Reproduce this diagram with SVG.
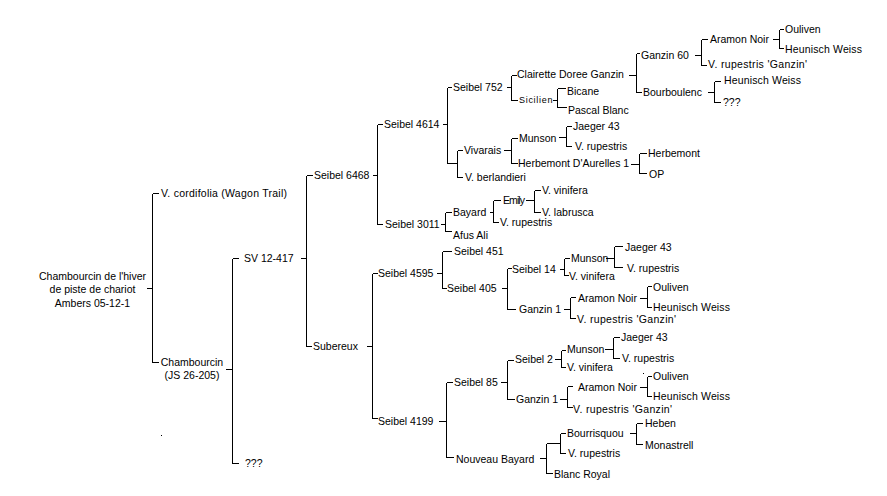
<svg xmlns="http://www.w3.org/2000/svg" width="887" height="496" viewBox="0 0 887 496">
<style>
text{font-family:"Liberation Sans",Arial,sans-serif;font-size:10.5px;fill:#000}
.m{text-anchor:middle}
.sm{font-size:9px;letter-spacing:0.7px}
.c{fill:none;stroke:#000;stroke-width:1}
</style>
<rect width="887" height="496" fill="#fff"/>
<g id="connectors" class="c" transform="translate(0.5,0.5)" shape-rendering="crispEdges">
<path d="M146 288H152M152 193V362M152 193H158M152 362H158"/>
<path d="M225 369H232M232 258V463M232 258H238M232 463H238"/>
<path d="M300 258H306M306 175V346M306 175H312M306 346H311"/>
<path d="M372 175H377M377 124V224M377 124H382M377 224H382"/>
<path d="M442 124H447M447 87V163M447 87H451M447 163H457M457 150V177M457 150H462M457 177H462"/>
<path d="M506 87H511M511 75V100M511 75H516M511 100H517"/>
<path d="M552 100H557M557 88V107M557 88H565M557 107H566"/>
<path d="M628 75H636M636 53V92M636 53H639M636 92H641"/>
<path d="M694 55H701M701 39V65M701 39H707M701 65H706"/>
<path d="M772 39H779M779 29V48M779 29H783M779 48H783"/>
<path d="M707 92H714M714 81V102M714 81H720M714 102H720"/>
<path d="M503 150H511M511 138V163M511 138H517M511 163H517"/>
<path d="M558 137H566M566 126V146M566 126H571M566 146H571"/>
<path d="M630 164H639M639 153V173M639 153H646M639 173H646"/>
<path d="M440 224H445M445 212V231M445 212H451M445 231H451"/>
<path d="M489 212H493M493 200V222M493 200H500M493 222H498"/>
<path d="M525 200H534M534 190V212M534 190H540M534 212H540"/>
<path d="M366 346H372M372 273V418M372 273H377M372 418H377"/>
<path d="M436 273H442M442 251V288M442 251H451M442 288H446"/>
<path d="M501 288H507M507 268V309M507 268H511M507 309H515"/>
<path d="M559 269H564M564 258V275M564 258H569M564 275H568"/>
<path d="M605 258H614M614 246V267M614 246H622M614 267H622"/>
<path d="M563 309H570M570 297V318M570 297H575M570 318H575"/>
<path d="M639 298H647M647 286V307M647 286H651M647 307H651"/>
<path d="M438 421H446M446 382V457M446 382H452M446 457H453"/>
<path d="M500 382H507M507 360V399M507 360H513M507 399H514"/>
<path d="M554 359H561M561 350V367M561 350H565M561 367H565"/>
<path d="M604 349H613M613 337V358M613 337H619M613 358H619"/>
<path d="M559 399H567M567 386V407M567 386H572M567 407H572"/>
<path d="M639 387H647M647 376V396M647 376H651M647 396H651"/>
<path d="M539 458H546M546 443V473M546 443H560M560 433V453M560 433H565M560 453H565M546 473H552"/>
<path d="M629 433H636M636 423V444M636 423H642M636 444H642"/>
</g>
<g id="dots" shape-rendering="crispEdges">
<rect x="161" y="435" width="1" height="1" fill="#000"/>
<rect x="643" y="373" width="1" height="1" fill="#000"/>
</g>
<g id="n-root"><text class="m" x="92.5" y="280">Chambourcin de l'hiver</text><text class="m" x="92.5" y="293">de piste de chariot</text><text class="m" x="92.5" y="307">Ambers 05-12-1</text></g>
<g id="n-cordifolia"><text x="161" y="197" textLength="126">V. cordifolia (Wagon Trail)</text></g>
<g id="n-chambourcin"><text class="m" x="192" y="366">Chambourcin</text><text class="m" x="192" y="379">(JS 26-205)</text></g>
<g id="n-sv12417"><text x="244" y="262">SV 12-417</text></g>
<g id="n-unk1"><text x="245" y="467">???</text></g>
<g id="n-seibel6468"><text x="314" y="179">Seibel 6468</text></g>
<g id="n-subereux"><text x="313" y="350">Subereux</text></g>
<g id="n-seibel4614"><text x="384" y="128">Seibel 4614</text></g>
<g id="n-seibel3011"><text x="385" y="228">Seibel 3011</text></g>
<g id="n-seibel752"><text x="453" y="91">Seibel 752</text></g>
<g id="n-vivarais"><text x="464" y="154">Vivarais</text></g>
<g id="n-berlandieri"><text x="465" y="181">V. berlandieri</text></g>
<g id="n-clairette"><text x="517" y="78">Clairette Doree Ganzin</text></g>
<g id="n-sicilien"><text class="sm" x="519" y="103">Sicilien</text></g>
<g id="n-bicane"><text x="567" y="95">Bicane</text></g>
<g id="n-pascal"><text x="568" y="114">Pascal Blanc</text></g>
<g id="n-ganzin60"><text x="641" y="59">Ganzin 60</text></g>
<g id="n-bourboulenc"><text x="643" y="96">Bourboulenc</text></g>
<g id="n-aramon1"><text x="710" y="43">Aramon Noir</text></g>
<g id="n-rupganzin1"><text x="708" y="68" textLength="99">V. rupestris 'Ganzin'</text></g>
<g id="n-ouliven1"><text x="785" y="33">Ouliven</text></g>
<g id="n-heunisch1"><text x="785" y="53" textLength="77">Heunisch Weiss</text></g>
<g id="n-heunisch2"><text x="724" y="84" textLength="77">Heunisch Weiss</text></g>
<g id="n-unk2"><text x="723" y="106">???</text></g>
<g id="n-munson1"><text x="519" y="142">Munson</text></g>
<g id="n-herbdaur"><text x="518" y="167">Herbemont D'Aurelles 1</text></g>
<g id="n-jaeger1"><text x="573" y="130">Jaeger 43</text></g>
<g id="n-rup1"><text x="575" y="150">V. rupestris</text></g>
<g id="n-herbemont"><text x="648" y="157">Herbemont</text></g>
<g id="n-op"><text x="649" y="178">OP</text></g>
<g id="n-bayard"><text x="453" y="216">Bayard</text></g>
<g id="n-afusali"><text x="453" y="239">Afus Ali</text></g>
<g id="n-emily"><text x="503" y="204" textLength="22">Emily</text></g>
<g id="n-rup2"><text x="500" y="226">V. rupestris</text></g>
<g id="n-vinifera1"><text x="542" y="194">V. vinifera</text></g>
<g id="n-labrusca"><text x="542" y="216">V. labrusca</text></g>
<g id="n-seibel4595"><text x="378" y="277">Seibel 4595</text></g>
<g id="n-seibel4199"><text x="378" y="425">Seibel 4199</text></g>
<g id="n-seibel451"><text x="454" y="255">Seibel 451</text></g>
<g id="n-seibel405"><text x="447" y="292">Seibel 405</text></g>
<g id="n-seibel14"><text x="512" y="273">Seibel 14</text></g>
<g id="n-ganzin1a"><text x="519" y="313">Ganzin 1</text></g>
<g id="n-munson2"><text x="571" y="262">Munson</text></g>
<g id="n-vinifera2"><text x="569" y="280">V. vinifera</text></g>
<g id="n-jaeger2"><text x="625" y="251">Jaeger 43</text></g>
<g id="n-rup3"><text x="627" y="272">V. rupestris</text></g>
<g id="n-aramon2"><text x="578" y="302">Aramon Noir</text></g>
<g id="n-rupganzin2"><text x="577" y="323" textLength="99">V. rupestris 'Ganzin'</text></g>
<g id="n-ouliven2"><text x="653" y="291">Ouliven</text></g>
<g id="n-heunisch3"><text x="653" y="311" textLength="77">Heunisch Weiss</text></g>
<g id="n-seibel85"><text x="454" y="386">Seibel 85</text></g>
<g id="n-nouveaubayard"><text x="456" y="463">Nouveau Bayard</text></g>
<g id="n-seibel2"><text x="515" y="363">Seibel 2</text></g>
<g id="n-ganzin1b"><text x="516" y="403">Ganzin 1</text></g>
<g id="n-munson3"><text x="567" y="353">Munson</text></g>
<g id="n-vinifera3"><text x="567" y="371">V. vinifera</text></g>
<g id="n-jaeger3"><text x="621" y="341">Jaeger 43</text></g>
<g id="n-rup4"><text x="622" y="362">V. rupestris</text></g>
<g id="n-aramon3"><text x="578" y="391">Aramon Noir</text></g>
<g id="n-rupganzin3"><text x="573" y="413" textLength="99">V. rupestris 'Ganzin'</text></g>
<g id="n-ouliven3"><text x="653" y="380">Ouliven</text></g>
<g id="n-heunisch4"><text x="653" y="400" textLength="77">Heunisch Weiss</text></g>
<g id="n-bourrisquou"><text x="567" y="437">Bourrisquou</text></g>
<g id="n-rup5"><text x="568" y="457">V. rupestris</text></g>
<g id="n-blancroyal"><text x="554" y="478">Blanc Royal</text></g>
<g id="n-heben"><text x="645" y="427">Heben</text></g>
<g id="n-monastrell"><text x="645" y="449">Monastrell</text></g>
</svg>
